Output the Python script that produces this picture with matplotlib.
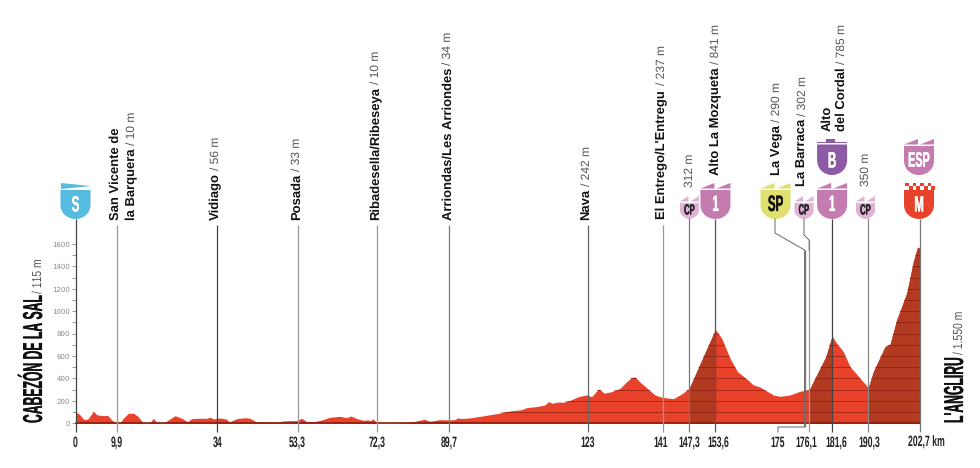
import os
import tempfile
import matplotlib
matplotlib.use("Agg")
import matplotlib.pyplot as plt
import matplotlib.patheffects as pe
from matplotlib import font_manager as fm
from matplotlib.path import Path
from matplotlib.patches import PathPatch, Polygon
from matplotlib.transforms import ScaledTranslation, blended_transform_factory
from fontTools.ttLib import TTFont

plt.rcParams["text.hinting"] = "no_hinting"
plt.rcParams["text.hinting_factor"] = 1

# profile
km = [0, 1.1, 1.9, 2.9, 4.3, 5.1, 6.3, 7.7, 8.7, 9.8, 10.6, 11.5, 12.7, 13.9, 14.9, 16.2, 17.9, 18.7, 19.5,
      21.1, 22.3, 23.9, 25.5, 26.9, 27.9, 29.9, 31.5, 32.3, 33.1, 34.7, 36.3, 36.9, 38.7, 40.7, 41.9, 43.3,
      45.9, 48.3, 49.9, 51.5, 53.1, 54.3, 55.5, 57.1, 59.1, 61.1, 63.5, 65.1, 66.1, 67.5, 69.1, 70.3, 70.7,
      71.5, 72.3, 74.7, 77.1, 81.1, 83.7, 85.1, 87.5, 89.5, 91.1, 91.7, 92.7, 94.7, 97.1, 101.1, 104.3, 107.1,
      108.3, 110.7, 112.7, 113.5, 114.5, 115.9, 117.1, 118.7, 120.7, 122.7, 123.9, 125.1, 125.7, 126.9, 128.7,
      130.7, 132.3, 133.5, 134.3, 135.5, 137.5, 139.1, 140.7, 143.5, 145.5, 147.3, 153.6, 155.1, 157.1, 158.9,
      161.1, 162.7, 164.3, 167.5, 169.1, 171.5, 173.9, 176.1, 178.7, 180.1, 181.6, 182.7, 184.3, 185.9, 190.3,
      191.5, 194.3, 195.5, 197.1, 199.5, 201.1, 202.1, 202.7]
elev = [104, 75, 36, 36, 104, 77, 68, 71, 30, 0, 0, 45, 90, 90, 65, 6, 6, 45, 9,
        3, 30, 68, 45, 15, 42, 45, 45, 54, 39, 48, 36, 12, 42, 50, 45, 15,
        12, 9, 21, 24, 24, 45, 15, 12, 30, 54, 62, 50, 65, 42, 27, 30, 24,
        39, 3, 0, 3, 15, 36, 18, 33, 30, 33, 48, 42, 48, 62, 86, 110, 122,
        140, 149, 164, 193, 179, 190, 187, 205, 238, 253, 238, 289, 307, 268, 283,
        312, 372, 408, 414, 368, 304, 253, 232, 220, 262, 312, 839, 759, 580, 461,
        396, 342, 324, 253, 241, 253, 286, 298, 491, 595, 780, 714, 640, 506, 318,
        461, 684, 705, 923, 1161, 1443, 1571, 1562]

km_marks = [0, 9.9, 34, 53.3, 72.3, 89.7, 123, 141, 147.3, 153.6, 175, 176.1, 181.6, 190.3, 202.7]
km_labels = ["0", "9,9", "34", "53,3", "72,3", "89,7", "123", "141", "147,3", "153,6", "175", "176,1",
             "181,6", "190,3", "202,7 km"]
label_dx = [0, 0, 0, 0, 0, 0, 0, -2, 0, 3, -27, -3, 4, 1, 6]
hard_parts = [(147.3, 153.6), (176.1, 181.6), (190.3, 202.7)]
y_labelled = [0, 200, 400, 600, 800, 1000, 1200, 1400, 1600]
y_minor = [100, 300, 500, 700, 900, 1100, 1300, 1500]

RED = "#e8432a"
DARK = "#b23a20"
PINK = "#c47bb0"
PALE = "#e2b2d4"
SANS = ["Liberation Sans", "DejaVu Sans"]


def narrow_font(name, weight, f):
    # no condensed face is installed, so make one from Liberation Sans
    src = fm.findfont(fm.FontProperties(family="Liberation Sans", weight=weight))
    font = TTFont(src)
    glyf = font["glyf"]
    hmtx = font["hmtx"]
    for g in font.getGlyphOrder():
        adv, lsb = hmtx[g]
        hmtx[g] = (round(adv * f), round(lsb * f))
        glyph = glyf[g]
        if glyph.isComposite():
            for c in glyph.components:
                c.x = round(c.x * f)
        elif glyph.numberOfContours > 0:
            glyph.coordinates.scale((f, 1))
            glyph.coordinates.toInt()
    for g in font.getGlyphOrder():
        glyf[g].recalcBounds(glyf)
    for tag in ("fpgm", "prep", "cvt ", "hdmx", "VDMX", "LTSH", "kern", "GPOS", "GSUB"):
        if tag in font:
            del font[tag]
    for rec in font["name"].names:
        if rec.nameID in (1, 4, 6, 16):
            rec.string = name
    path = os.path.join(tempfile.mkdtemp(), name + ".ttf")
    font.save(path)
    fm.fontManager.addfont(path)
    return name


TITLE = narrow_font("ProfileTitle", "bold", 0.445)
TICKS = narrow_font("ProfileTicks", "bold", 0.58)
BADGE = narrow_font("ProfileBadge", "bold", 0.52)
THIN = narrow_font("ProfileThin", "normal", 0.8)


def heavier(t, lw, color):
    t.set_path_effects([pe.Stroke(linewidth=lw, foreground=color), pe.Normal()])
    return t


fig = plt.figure(figsize=(9.8, 4.68), dpi=100)
ax = fig.add_axes([75.5 / 980, (468 - 423.3) / 468, 844.5 / 980, 179.3 / 468])
ov = fig.add_axes([0, 0, 1, 1], zorder=5)
ov.set_xlim(0, 980)
ov.set_ylim(468, 0)
ov.axis("off")

ax.set_xlim(0, 202.7)
ax.set_ylim(0, 1600)
for s in ax.spines.values():
    s.set_visible(False)

prof = ax.fill_between(km, elev, 0, color=RED, lw=0)
for a, b in hard_parts:
    ax.fill_between(km, elev, 0, where=[a <= k <= b for k in km], color=DARK, lw=0)
grid = ax.hlines(y_labelled + y_minor, 0, 202.7, color="#8a1a0c", lw=0.6, alpha=0.8)
grid.set_clip_path(prof.get_paths()[0], transform=ax.transData)
ax.axhline(0, color="#8a1a0c", lw=1.2, clip_on=False)

ax.set_yticks(y_labelled, [str(v) for v in y_labelled])
ax.set_yticks(y_minor, minor=True)
ax.tick_params(axis="y", which="both", length=3, width=0.6, color="#888888", pad=1,
               labelsize=5.4, labelcolor="#8a8a8a")
ax.set_xticks(km_marks, km_labels, fontfamily=TICKS)
ax.tick_params(axis="x", length=0, pad=9, labelsize=10.9, labelcolor="#222222")
for lab, dx in zip(ax.get_xticklabels(), label_dx):
    lab.set_transform(lab.get_transform() + ScaledTranslation(dx / 100, 0, fig.dpi_scale_trans))


def x_of(k):
    return ax.transData.transform((k, 0))[0]


# vertical marker lines, x in km and y in pixels
both = blended_transform_factory(ax.transData, ov.transData)
line_tops = [219, 225, 225, 225, 225, 225, 225, 225, 218, 219, 250, 240, 219, 218, 219]
line_grey = ["#444444", "#999999", "#444444", "#999999", "#999999", "#777777", "#666666", "#999999",
             "#777777", "#555555", "#777777", "#999999", "#444444", "#888888", "#777777"]
for k, top, c in zip(km_marks, line_tops, line_grey):
    ov.vlines(k, top, 427 if k == 175 else 432, color=c, lw=0.9, transform=both, clip_on=False)

# leaders of the two marks that sit close together
ov.plot([775, 775, x_of(175), x_of(175), 778, 778], [219, 233, 250, 427, 427, 432], color="#666666", lw=0.7)
ov.plot([804, 804, x_of(176.1), x_of(176.1)], [219, 235, 240, 250], color="#666666", lw=0.7)


def label(x, y, bold, rest=None, gap=3, size=8.7):
    h = 0
    if bold:
        t = ov.text(x, y, bold, rotation=90, ha="center", va="bottom", fontsize=9.2, fontweight="bold",
                    fontfamily=SANS, color="#111111")
        h = t.get_window_extent(fig.canvas.get_renderer()).height + gap
    if rest:
        ov.text(x, y - h, rest, rotation=90, ha="center", va="bottom", fontsize=size,
                fontfamily=SANS, color="#555555")


label(116, 220, "San Vicente de")
label(132, 220, "la Barquera", "/ 10 m")
label(x_of(34) - 1, 220, "Vidiago", "/ 56 m")
label(x_of(53.3) - 1, 220, "Posada", "/ 33 m")
label(x_of(72.3) - 1, 220, "Ribadesella/Ribeseya", "/ 10 m")
label(x_of(89.7) - 1, 220, "Arriondas/Les Arriondes", "/ 34 m")
label(x_of(123) - 1, 220, "Nava", "/ 242 m")
label(661.5, 219, "El Entrego/L'Entregu", "/ 237 m", gap=5)
label(690, 187, "", "312 m", size=8.3)
label(716, 175, "Alto La Mozqueta", "/ 841 m")
label(777, 175, "La Vega", "/ 290 m")
label(803, 186, "La Barraca", "/ 302 m")
label(827, 131, "Alto")
label(842, 131, "del Cordal", "/ 785 m")
label(866, 186, "", "350 m", size=8.3)


def shield(xc, top, w, bottom, color):
    x0, x1 = xc - w / 2, xc + w / 2
    mid = top + (bottom - top) * 0.5
    verts = [(x0, top), (x1, top), (x1, mid), (x1, bottom - 4), (xc + w * 0.2, bottom), (xc, bottom),
             (xc - w * 0.2, bottom), (x0, bottom - 4), (x0, mid), (x0, top)]
    codes = [Path.MOVETO, Path.LINETO, Path.LINETO, Path.CURVE4, Path.CURVE4, Path.CURVE4,
             Path.CURVE4, Path.CURVE4, Path.CURVE4, Path.CLOSEPOLY]
    ov.add_patch(PathPatch(Path(verts, codes), fc=color, ec="none"))


def flags(xc, top, w, color):
    ov.add_patch(Polygon([(xc - w / 2, top + 5.5), (xc - 1, top), (xc - 1, top + 5.5)], fc=color, ec="none"))
    ov.add_patch(Polygon([(xc + 1, top + 5.5), (xc + w / 2, top), (xc + w / 2, top + 5.5)], fc=color, ec="none"))


def badge_text(x, y, txt, tc, size):
    t = ov.text(x, y, txt, ha="center", va="center_baseline", color=tc, fontsize=size, fontfamily=BADGE)
    heavier(t, 0.2, tc)


def badge(xc, top, w, color, txt, tc="white", size=16, big=True):
    flags(xc, top, w, color)
    shield(xc, top + 7, w, top + (36 if big else 23), color)
    badge_text(xc, top + (20 if big else 13), txt, tc, size)


# start badge
ov.add_patch(Polygon([(61, 183), (91, 186), (61, 189)], fc="#56bbe0", ec="none"))
shield(75.5, 190, 30, 219, "#56bbe0")
badge_text(75.5, 203.5, "S", "white", 16)

badge(689.5, 196, 19, PALE, "CP", "#222222", 10.5, big=False)
badge(x_of(153.6), 183, 30, PINK, "1")
badge(775.5, 183, 30, "#dfe070", "SP", "#111111", 16)
badge(804, 196, 19, PALE, "CP", "#222222", 10.5, big=False)
badge(x_of(181.6), 183, 30, PINK, "1")
badge(865.5, 196, 19, PALE, "CP", "#222222", 10.5, big=False)

# Alto del Cordal special category
ov.add_patch(Polygon([(817, 143), (847, 143), (847, 141.5), (835, 141.5), (835, 139), (826, 139), (826, 141.5), (817, 141.5)],
                     fc="#8d5ba5", ec="none"))
shield(x_of(181.6), 144.5, 30, 175, "#8d5ba5")
badge_text(x_of(181.6), 159.5, "B", "white", 16)

xm = x_of(202.7) - 1
flags(xm, 139, 30, PINK)
shield(xm, 146, 30, 175, PINK)
badge_text(xm, 159, "ESP", "white", 15)
shield(xm, 190, 30, 219, RED)
for i in range(8):
    for j in range(2):
        if (i + j) % 2 == 0:
            ov.add_patch(Polygon([(905 + i * 3.75, 183 + j * 3.3), (908.75 + i * 3.75, 183 + j * 3.3),
                                  (908.75 + i * 3.75, 186.3 + j * 3.3), (905 + i * 3.75, 186.3 + j * 3.3)],
                                 fc=RED, ec="none"))
badge_text(xm, 203.5, "M", "white", 16)


def place_name(x, name, rest):
    t = ov.text(x, 423, name, rotation=90, rotation_mode="anchor", ha="left", va="baseline", fontsize=19.7,
                fontfamily=TITLE, color="#111111")
    heavier(t, 0.15, "#111111")
    h = t.get_window_extent(fig.canvas.get_renderer()).height
    ov.text(x, 423 - h - 4, rest, rotation=90, rotation_mode="anchor", ha="left", va="baseline", fontsize=9.5,
            fontfamily=THIN, color="#555555")


place_name(42, "CABEZÓN DE LA SAL", "/ 115 m")
place_name(963, "L'ANGLIRU", "/ 1.550 m")

fig.savefig("out.png", dpi=100)
